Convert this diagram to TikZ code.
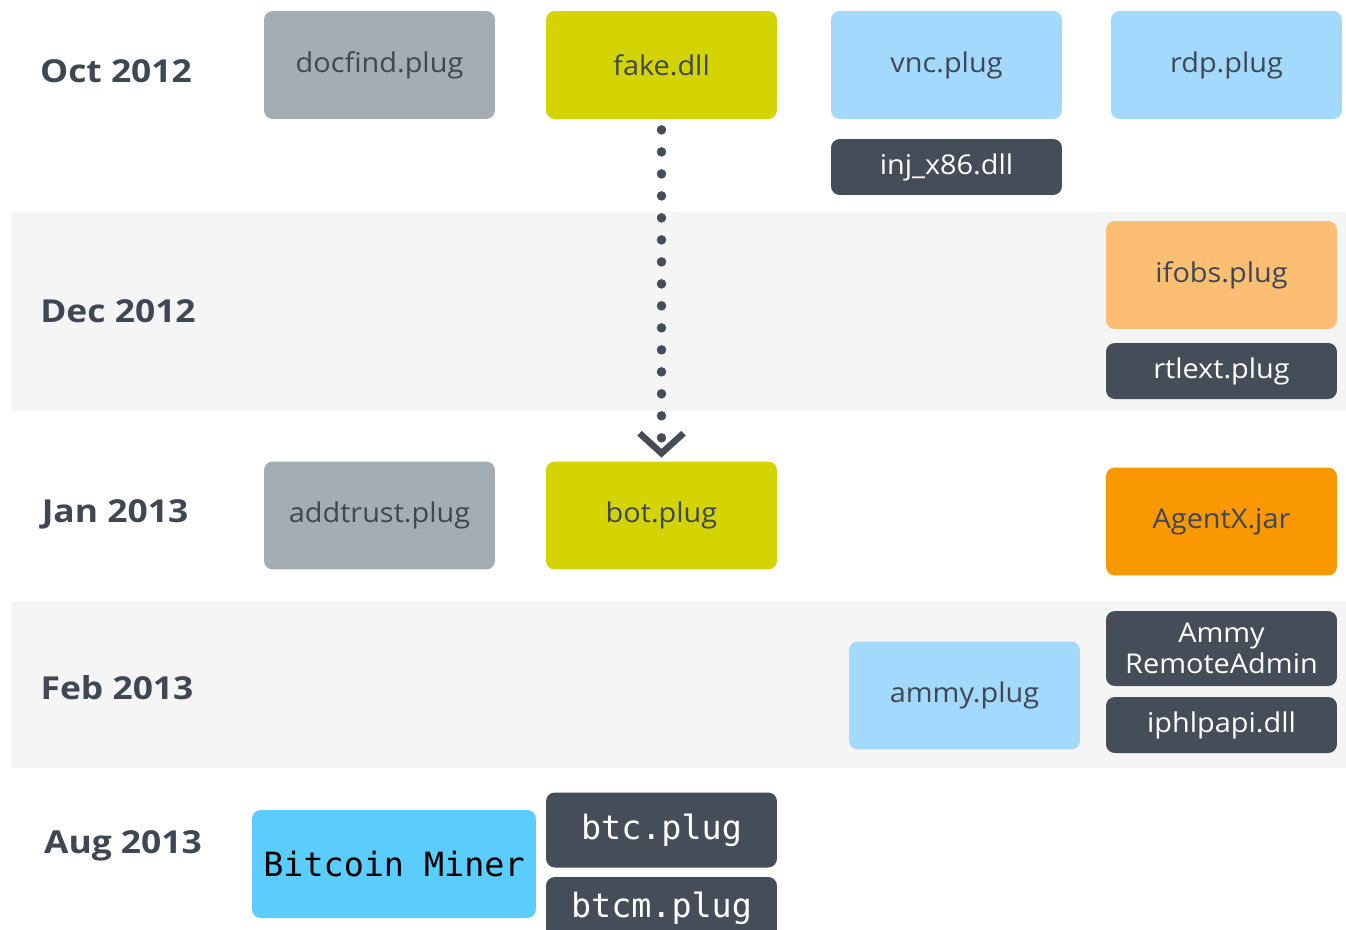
\documentclass[tikz,border=0pt]{standalone}
\usepackage{fontspec}
\setmainfont{Open Sans}
\newfontfamily\codefont{DejaVu Sans Mono}
\usetikzlibrary{arrows.meta}
\definecolor{bandGrey}{HTML}{F5F5F5}
\definecolor{plugGrey}{HTML}{A4ADB3}
\definecolor{plugYellow}{HTML}{D4D404}
\definecolor{plugBlue}{HTML}{A3D9FD}
\definecolor{plugDark}{HTML}{454D59}
\definecolor{plugPeach}{HTML}{FBBE73}
\definecolor{plugOrange}{HTML}{F99800}
\definecolor{minerBlue}{HTML}{5BCDFC}
\definecolor{inkDark}{HTML}{3F4753}

\begin{document}
\begin{tikzpicture}[x=0.02cm,y=-0.02cm]
\tikzstyle{plug}=[rectangle,rounded corners=5pt,minimum width=4.62cm,minimum height=2.16cm,inner sep=0pt,text=inkDark,font=\fontsize{15.5}{17}\selectfont\addfontfeatures{FakeStretch=1.06}]
\tikzstyle{grey}=[plug,fill=plugGrey]
\tikzstyle{yellow}=[plug,fill=plugYellow]
\tikzstyle{blue}=[plug,fill=plugBlue]
\tikzstyle{peach}=[plug,fill=plugPeach]
\tikzstyle{orange}=[plug,fill=plugOrange]
\tikzstyle{dark}=[plug,fill=plugDark,text=white,minimum height=1.12cm]
\tikzstyle{month}=[text=inkDark,font=\fontsize{18}{20}\selectfont\bfseries\addfontfeatures{FakeStretch=1.12}]
\tikzstyle{dotArrow}=[draw=plugDark,line width=0.19cm,line cap=round,dash pattern=on 0pt off 0.44cm,
  -{Straight Barb[length=0.4cm,width=0.88cm,line width=0.13cm]}]

\clip (0,0) rectangle (1346,930);
\fill[white] (0,0) rectangle (1346,930);

%month bands.
\fill[bandGrey] (11,212) rectangle (1346,411);
\fill[bandGrey] (11,602) rectangle (1346,768);

%get labels.
\node[month] (oct) at (116,71) {Oct 2012};
\node[month] (dec) at (118,311) {Dec 2012};
\node[month] (jan) at (115,514) {Jan 2013};
\node[month] (feb) at (117,688) {Feb 2013};
\node[month] (aug) at (123,846) {Aug 2013};

% Oct 2012
\node[grey] (docfind) at (379.5,65) {docfind.plug};
\node[yellow] (fakeDll) at (661.5,65) {fake.dll};
\node[blue] (vnc) at (946.5,65) {vnc.plug};
\node[blue] (rdp) at (1226.5,65) {rdp.plug};
\node[dark] (injDll) at (946.5,167) {inj\_x86.dll};

% Dec 2012
\node[peach] (ifobs) at (1221.5,275) {ifobs.plug};
\node[dark] (rtlext) at (1221.5,371) {rtlext.plug};

% Jan 2013
\node[grey] (addtrust) at (379.5,515.5) {addtrust.plug};
\node[yellow] (botPlug) at (661.5,515.5) {bot.plug};
\node[orange] (agentX) at (1221.5,521.5) {AgentX.jar};

\draw[dotArrow,shorten <=6,shorten >=2] (fakeDll.south) -- (botPlug.north);

% Feb 2013
\node[blue] (ammyPlug) at (964.5,695.5) {ammy.plug};
\node[dark,minimum height=1.5cm,align=center,font=\fontsize{15.5}{17.5}\selectfont\addfontfeatures{FakeStretch=1.06}] (ammyAdmin) at (1221.5,648.5) {Ammy\\RemoteAdmin};
\node[dark] (iphlpapi) at (1221.5,725) {iphlpapi.dll};

% Aug 2013
\node[plug,fill=minerBlue,minimum width=5.68cm,text=black,font=\fontsize{19}{22}\selectfont\codefont] (miner) at (394,864) {Bitcoin Miner};
\node[dark,minimum height=1.5cm,font=\fontsize{19}{22}\selectfont\codefont] (btc) at (661.5,830) {btc.plug};
\node[dark,minimum height=1.26cm,font=\fontsize{19}{22}\selectfont\codefont] (btcm) at (661.5,908.5) {btcm.plug};

\end{tikzpicture}
\end{document}
